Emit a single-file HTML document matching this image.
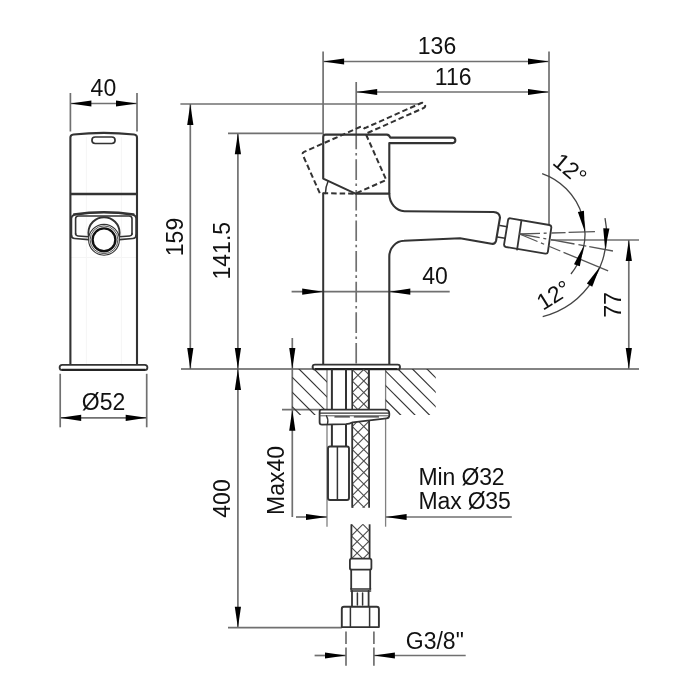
<!DOCTYPE html>
<html><head><meta charset="utf-8"><style>
html,body{margin:0;padding:0;background:#fff;}
svg{display:block;filter:blur(0.3px);}
text{font-family:"Liberation Sans", sans-serif;}
</style></head><body>
<svg width="700" height="700" viewBox="0 0 700 700">
<rect width="700" height="700" fill="#fff"/>
<line x1="86.40" y1="137.00" x2="86.40" y2="364.50" stroke="#f5f5f5" stroke-width="1" />
<line x1="121.40" y1="137.00" x2="121.40" y2="364.50" stroke="#f5f5f5" stroke-width="1" />
<line x1="71.00" y1="257.50" x2="136.00" y2="257.50" stroke="#f5f5f5" stroke-width="1" />
<line x1="70.40" y1="93.00" x2="70.40" y2="131.50" stroke="#707070" stroke-width="1.7" />
<line x1="137.00" y1="93.00" x2="137.00" y2="131.50" stroke="#707070" stroke-width="1.7" />
<line x1="70.40" y1="103.50" x2="137.00" y2="103.50" stroke="#707070" stroke-width="1.7" />
<path d="M70.40,103.50 L91.40,100.40 L91.40,106.60 Z" fill="#000"/>
<path d="M137.00,103.50 L116.00,106.60 L116.00,100.40 Z" fill="#000"/>
<text x="103.40" y="87.80" font-size="23" text-anchor="middle" dominant-baseline="central" fill="#111">40</text>
<path d="M70.4,364.8 V137.6 Q70.4,134.8 73.5,134.5 Q103.7,131.2 134,134.5 Q137,134.8 137,137.6 V364.8" stroke="#333333" stroke-width="2.1" fill="none" stroke-linejoin="round" stroke-linecap="round" />
<path d="M95.2,137 H111.8 A3.25,3.25 0 0 1 111.8,143.5 H95.2 A3.25,3.25 0 0 1 95.2,137 Z" stroke="#333333" stroke-width="1.7" fill="none" stroke-linejoin="round" stroke-linecap="round" />
<line x1="70.40" y1="194.00" x2="137.00" y2="194.00" stroke="#333333" stroke-width="2.6" />
<path d="M71.4,237 V218.6 Q71.4,215.4 74.6,214.8 Q103.8,210.4 133,214.8 Q136.1,215.4 136.1,218.6 V237" stroke="#333333" stroke-width="1.7" fill="none" stroke-linejoin="round" stroke-linecap="round" />
<path d="M74,214.2 Q103.8,209.8 133.6,214.2" stroke="#333333" stroke-width="2.0" fill="none" stroke-linejoin="round" stroke-linecap="round" />
<path d="M71.4,235 Q71.4,238.2 74.6,238.5 L88.6,239.6" stroke="#333333" stroke-width="1.6" fill="none" stroke-linejoin="round" stroke-linecap="round" />
<path d="M136.1,235 Q136.1,238.2 132.9,238.5 L119.4,239.6" stroke="#333333" stroke-width="1.6" fill="none" stroke-linejoin="round" stroke-linecap="round" />
<path d="M75.6,234.2 V218.8 Q75.6,216 78.5,216 L129.1,216 Q132,216 132,218.8 V234.2" stroke="#333333" stroke-width="1.6" fill="none" stroke-linejoin="round" stroke-linecap="round" />
<path d="M75.6,233.6 Q75.6,235.8 78,236 L88.6,236.8" stroke="#333333" stroke-width="1.5" fill="none" stroke-linejoin="round" stroke-linecap="round" />
<path d="M132,233.6 Q132,235.8 129.6,236 L119.4,236.8" stroke="#333333" stroke-width="1.5" fill="none" stroke-linejoin="round" stroke-linecap="round" />
<circle cx="104" cy="232.8" r="15.6" fill="#fff" stroke="#333333" stroke-width="1.9"/>
<circle cx="104" cy="239.8" r="15.4" fill="#fff" stroke="#333" stroke-width="1.1"/>
<circle cx="104" cy="239.8" r="13.9" fill="none" stroke="#555" stroke-width="1.0"/>
<circle cx="104" cy="239.8" r="11.4" fill="#fff" stroke="#111" stroke-width="2.4"/>
<rect x="59.6" y="364.8" width="87.8" height="5.2" rx="2.6" fill="#fff" stroke="#333333" stroke-width="1.8"/>
<line x1="62.00" y1="369.80" x2="145.00" y2="369.80" stroke="#222" stroke-width="1.9" />
<line x1="60.20" y1="373.80" x2="60.20" y2="427.30" stroke="#707070" stroke-width="1.7" />
<line x1="146.70" y1="373.80" x2="146.70" y2="427.30" stroke="#707070" stroke-width="1.7" />
<line x1="60.20" y1="417.80" x2="146.70" y2="417.80" stroke="#707070" stroke-width="1.7" />
<path d="M60.20,417.80 L81.20,414.70 L81.20,420.90 Z" fill="#000"/>
<path d="M146.70,417.80 L125.70,420.90 L125.70,414.70 Z" fill="#000"/>
<text x="103.60" y="401.60" font-size="23" text-anchor="middle" dominant-baseline="central" fill="#111">Ø52</text>
<line x1="323.10" y1="51.60" x2="323.10" y2="134.50" stroke="#707070" stroke-width="1.7" />
<line x1="323.10" y1="61.50" x2="549.00" y2="61.50" stroke="#707070" stroke-width="1.7" />
<path d="M323.10,61.50 L344.10,58.40 L344.10,64.60 Z" fill="#000"/>
<path d="M549.00,61.50 L528.00,64.60 L528.00,58.40 Z" fill="#000"/>
<text x="437.00" y="45.80" font-size="23" text-anchor="middle" dominant-baseline="central" fill="#111">136</text>
<line x1="356.20" y1="82.00" x2="356.20" y2="142.00" stroke="#707070" stroke-width="1.7" />
<line x1="356.20" y1="92.00" x2="549.00" y2="92.00" stroke="#707070" stroke-width="1.7" />
<path d="M356.20,92.00 L377.20,88.90 L377.20,95.10 Z" fill="#000"/>
<path d="M549.00,92.00 L528.00,95.10 L528.00,88.90 Z" fill="#000"/>
<text x="453.20" y="76.60" font-size="23" text-anchor="middle" dominant-baseline="central" fill="#111">116</text>
<line x1="549.00" y1="51.40" x2="549.00" y2="225.00" stroke="#707070" stroke-width="1.7" />
<line x1="180.40" y1="104.00" x2="418.60" y2="104.00" stroke="#707070" stroke-width="1.7" />
<line x1="228.00" y1="133.30" x2="323.00" y2="133.30" stroke="#707070" stroke-width="1.7" />
<line x1="190.30" y1="104.00" x2="190.30" y2="369.00" stroke="#707070" stroke-width="1.7" />
<path d="M190.30,104.00 L193.40,125.00 L187.20,125.00 Z" fill="#000"/>
<path d="M190.30,369.00 L187.20,348.00 L193.40,348.00 Z" fill="#000"/>
<text x="175.00" y="237.00" font-size="23" text-anchor="middle" dominant-baseline="central" fill="#111" transform="rotate(-90 175.00 237.00)">159</text>
<line x1="237.90" y1="133.30" x2="237.90" y2="627.70" stroke="#707070" stroke-width="1.7" />
<path d="M237.90,133.30 L241.00,154.30 L234.80,154.30 Z" fill="#000"/>
<path d="M237.90,369.00 L234.80,348.00 L241.00,348.00 Z" fill="#000"/>
<text x="221.80" y="250.70" font-size="23" text-anchor="middle" dominant-baseline="central" fill="#111" transform="rotate(-90 221.80 250.70)">141.5</text>
<line x1="181.00" y1="369.00" x2="639.00" y2="369.00" stroke="#5a5a5a" stroke-width="1.7" />
<line x1="551.00" y1="240.00" x2="639.00" y2="240.00" stroke="#707070" stroke-width="1.7" />
<line x1="628.80" y1="240.00" x2="628.80" y2="369.00" stroke="#707070" stroke-width="1.7" />
<path d="M628.80,240.00 L631.90,261.00 L625.70,261.00 Z" fill="#000"/>
<path d="M628.80,369.00 L625.70,348.00 L631.90,348.00 Z" fill="#000"/>
<text x="612.50" y="305.00" font-size="23" text-anchor="middle" dominant-baseline="central" fill="#111" transform="rotate(-90 612.50 305.00)">77</text>
<line x1="291.60" y1="291.70" x2="449.70" y2="291.70" stroke="#707070" stroke-width="1.7" />
<path d="M323.20,291.70 L302.20,294.80 L302.20,288.60 Z" fill="#000"/>
<path d="M389.30,291.70 L410.30,288.60 L410.30,294.80 Z" fill="#000"/>
<text x="435.00" y="275.80" font-size="23" text-anchor="middle" dominant-baseline="central" fill="#111">40</text>
<path d="M237.90,369.00 L241.00,390.00 L234.80,390.00 Z" fill="#000"/>
<path d="M237.90,627.70 L234.80,606.70 L241.00,606.70 Z" fill="#000"/>
<line x1="228.00" y1="627.70" x2="341.80" y2="627.70" stroke="#707070" stroke-width="1.7" />
<text x="222.30" y="498.50" font-size="23" text-anchor="middle" dominant-baseline="central" fill="#111" transform="rotate(-90 222.30 498.50)">400</text>
<line x1="292.30" y1="338.00" x2="292.30" y2="517.00" stroke="#707070" stroke-width="1.7" />
<path d="M292.30,369.00 L289.20,348.00 L295.40,348.00 Z" fill="#000"/>
<path d="M292.30,409.70 L295.40,430.70 L289.20,430.70 Z" fill="#000"/>
<line x1="282.00" y1="409.70" x2="320.00" y2="409.70" stroke="#707070" stroke-width="1.7" />
<text x="276.30" y="480.40" font-size="23" text-anchor="middle" dominant-baseline="central" fill="#111" transform="rotate(-90 276.30 480.40)">Max40</text>
<line x1="327.00" y1="369.00" x2="327.00" y2="526.70" stroke="#808080" stroke-width="1.3" />
<line x1="385.60" y1="369.00" x2="385.60" y2="526.70" stroke="#808080" stroke-width="1.3" />
<line x1="296.00" y1="517.00" x2="327.00" y2="517.00" stroke="#707070" stroke-width="1.7" />
<path d="M327.00,517.00 L306.00,520.10 L306.00,513.90 Z" fill="#000"/>
<line x1="385.60" y1="517.00" x2="511.80" y2="517.00" stroke="#707070" stroke-width="1.7" />
<path d="M385.60,517.00 L406.60,513.90 L406.60,520.10 Z" fill="#000"/>
<text x="418.60" y="476.70" font-size="23" text-anchor="start" dominant-baseline="central" fill="#111" letter-spacing="-0.15">Min Ø32</text>
<text x="418.60" y="501.30" font-size="23" text-anchor="start" dominant-baseline="central" fill="#111" letter-spacing="-0.2">Max Ø35</text>
<line x1="346.00" y1="631.40" x2="346.00" y2="665.70" stroke="#707070" stroke-width="1.7" stroke-dasharray="12.5 3.5 30"/>
<line x1="373.90" y1="631.40" x2="373.90" y2="665.70" stroke="#707070" stroke-width="1.7" stroke-dasharray="12.5 3.5 30"/>
<line x1="314.60" y1="655.50" x2="346.00" y2="655.50" stroke="#707070" stroke-width="1.7" />
<path d="M346.00,655.50 L325.00,658.60 L325.00,652.40 Z" fill="#000"/>
<line x1="373.90" y1="655.50" x2="465.70" y2="655.50" stroke="#707070" stroke-width="1.7" />
<path d="M373.90,655.50 L394.90,652.40 L394.90,658.60 Z" fill="#000"/>
<text x="405.80" y="640.60" font-size="23" text-anchor="start" dominant-baseline="central" fill="#111">G3/8"</text>
<line x1="356.20" y1="142.00" x2="356.20" y2="364.60" stroke="#707070" stroke-width="1.7" stroke-dasharray="20.6 3.6 2.6 3.8" stroke-dashoffset="-17.30"/>
<path d="M323.2,178.6 V137 Q323.2,134.6 325.6,134.6 L386.8,134.6 Q389.3,134.8 390.3,137.6 L452.6,137.6 A2.75,2.75 0 0 1 452.6,143.1 L389.3,143.1 V193.6 L355.4,193.6 Z" stroke="#333333" stroke-width="2.1" fill="none" stroke-linejoin="round" stroke-linecap="round" />
<path d="M325.4,193.6 A30,30 0 0 1 328.2,181" stroke="#333333" stroke-width="1.5" fill="none" stroke-linejoin="round" stroke-linecap="round" />
<path d="M323.2,178.6 V137 Q323.2,134.6 325.6,134.6 L386.8,134.6 Q389.3,134.8 390.3,137.6 L452.6,137.6 A2.75,2.75 0 0 1 452.6,143.1 L389.3,143.1 V193.6 L355.4,193.6 Z" transform="rotate(-24 355.6 193.9)" stroke="#333333" stroke-width="2" fill="none" stroke-dasharray="5.5 3"/>
<path d="M323.2,193.6 V364.6" stroke="#333333" stroke-width="2" fill="none" stroke-linejoin="round" stroke-linecap="round" />
<path d="M389.3,193.6 A15.5,17.6 0 0 0 404.4,211.2 L493.5,212 Q499.5,212.4 500,217.5 L496,241 Q495,244.5 491.5,243.8 L460,238.2 L404,240.8 A15,16 0 0 0 389.3,256.9 V364.6" stroke="#333333" stroke-width="2.1" fill="none" stroke-linejoin="round" stroke-linecap="round" />
<path d="M500,225.5 L507.2,226.8 M497.4,237 L505,238.3" stroke="#333333" stroke-width="1.6" fill="none" stroke-linejoin="round" stroke-linecap="round" />
<path d="M510.5,218.3 L549.4,225 Q551.6,225.6 551.3,227.6 L547.9,251.8 Q547.5,254 545.3,253.6 L506,247 Q503.8,246.5 504.1,244.4 L508,220.3 Q508.4,218 510.5,218.3 Z" stroke="#333333" stroke-width="1.85" fill="none" stroke-linejoin="round" stroke-linecap="round" />
<path d="M521.4,220.7 L517.1,249.6" stroke="#333333" stroke-width="1.8" fill="none" stroke-linejoin="round" stroke-linecap="round" />
<rect x="312.6" y="364.6" width="87.4" height="4.8" rx="2.4" fill="#fff" stroke="#333333" stroke-width="1.9"/>
<line x1="315.00" y1="369.10" x2="397.50" y2="369.10" stroke="#222" stroke-width="2.0" />
<line x1="519.5" y1="234" x2="594.96" y2="231.63" stroke="#555" stroke-width="1.3" stroke-dasharray="20.5 3.7 3 4.7 14.2 3 40"/>
<line x1="519.5" y1="234" x2="612.97" y2="250.99" stroke="#555" stroke-width="1.3" stroke-dasharray="20.5 3.7 3 4.7 24 4 8 3 40"/>
<line x1="519.5" y1="234" x2="608.13" y2="270.89" stroke="#555" stroke-width="1.3" stroke-dasharray="19.5 3.7 3.5 4.5 13 3.5 50"/>
<path d="M542.15,173.60 A64,64 0 0 1 570.95,274.02" stroke="#444" stroke-width="1.3" fill="none"/>
<path d="M584.97,231.99 L577.85,211.99 L583.93,210.79 Z" fill="#000"/>
<path d="M583.97,245.44 L579.81,266.26 L573.97,264.17 Z" fill="#000"/>
<path d="M605.01,218.13 A85.5,85.5 0 0 1 542.70,316.70" stroke="#444" stroke-width="1.3" fill="none"/>
<path d="M605.12,249.29 L603.22,228.15 L609.41,228.50 Z" fill="#000"/>
<path d="M599.93,266.86 L592.24,286.64 L586.86,283.58 Z" fill="#000"/>
<text x="570.00" y="168.80" font-size="23" text-anchor="middle" dominant-baseline="central" fill="#111" transform="rotate(40 570.00 168.80)">12°</text>
<text x="553.50" y="295.00" font-size="23" text-anchor="middle" dominant-baseline="central" fill="#111" transform="rotate(-32 553.50 295.00)">12°</text>
<clipPath id="hl"><rect x="292.3" y="369" width="34.7" height="46"/></clipPath>
<clipPath id="hr"><rect x="385.6" y="369" width="50.2" height="46"/></clipPath>
<g clip-path="url(#hl)"><line x1="305.0" y1="360" x2="375.0" y2="430" stroke="#333" stroke-width="1.2"/><line x1="290.0" y1="360" x2="360.0" y2="430" stroke="#333" stroke-width="1.2"/><line x1="275.0" y1="360" x2="345.0" y2="430" stroke="#333" stroke-width="1.2"/><line x1="260.0" y1="360" x2="330.0" y2="430" stroke="#333" stroke-width="1.2"/><line x1="245.5" y1="360" x2="315.5" y2="430" stroke="#333" stroke-width="1.2"/><line x1="231.0" y1="360" x2="301.0" y2="430" stroke="#333" stroke-width="1.2"/></g>
<g clip-path="url(#hr)"><line x1="331.4" y1="360" x2="401.4" y2="430" stroke="#333" stroke-width="1.2"/><line x1="345.7" y1="360" x2="415.7" y2="430" stroke="#333" stroke-width="1.2"/><line x1="360.0" y1="360" x2="430.0" y2="430" stroke="#333" stroke-width="1.2"/><line x1="374.5" y1="360" x2="444.5" y2="430" stroke="#333" stroke-width="1.2"/><line x1="389.0" y1="360" x2="459.0" y2="430" stroke="#333" stroke-width="1.2"/><line x1="403.5" y1="360" x2="473.5" y2="430" stroke="#333" stroke-width="1.2"/><line x1="418.0" y1="360" x2="488.0" y2="430" stroke="#333" stroke-width="1.2"/></g>
<clipPath id="c1"><rect x="352.2" y="369.5" width="16.80000000000001" height="40.10000000000002"/></clipPath>
<g clip-path="url(#c1)"><line x1="292.2" y1="79.5" x2="412.2" y2="199.5" stroke="#4a4a4a" stroke-width="1.05"/><line x1="292.2" y1="199.5" x2="412.2" y2="79.5" stroke="#4a4a4a" stroke-width="1.05"/><line x1="292.2" y1="91.0" x2="412.2" y2="211.0" stroke="#4a4a4a" stroke-width="1.05"/><line x1="292.2" y1="211.0" x2="412.2" y2="91.0" stroke="#4a4a4a" stroke-width="1.05"/><line x1="292.2" y1="102.5" x2="412.2" y2="222.5" stroke="#4a4a4a" stroke-width="1.05"/><line x1="292.2" y1="222.5" x2="412.2" y2="102.5" stroke="#4a4a4a" stroke-width="1.05"/><line x1="292.2" y1="114.0" x2="412.2" y2="234.0" stroke="#4a4a4a" stroke-width="1.05"/><line x1="292.2" y1="234.0" x2="412.2" y2="114.0" stroke="#4a4a4a" stroke-width="1.05"/><line x1="292.2" y1="125.5" x2="412.2" y2="245.5" stroke="#4a4a4a" stroke-width="1.05"/><line x1="292.2" y1="245.5" x2="412.2" y2="125.5" stroke="#4a4a4a" stroke-width="1.05"/><line x1="292.2" y1="137.0" x2="412.2" y2="257.0" stroke="#4a4a4a" stroke-width="1.05"/><line x1="292.2" y1="257.0" x2="412.2" y2="137.0" stroke="#4a4a4a" stroke-width="1.05"/><line x1="292.2" y1="148.5" x2="412.2" y2="268.5" stroke="#4a4a4a" stroke-width="1.05"/><line x1="292.2" y1="268.5" x2="412.2" y2="148.5" stroke="#4a4a4a" stroke-width="1.05"/><line x1="292.2" y1="160.0" x2="412.2" y2="280.0" stroke="#4a4a4a" stroke-width="1.05"/><line x1="292.2" y1="280.0" x2="412.2" y2="160.0" stroke="#4a4a4a" stroke-width="1.05"/><line x1="292.2" y1="171.5" x2="412.2" y2="291.5" stroke="#4a4a4a" stroke-width="1.05"/><line x1="292.2" y1="291.5" x2="412.2" y2="171.5" stroke="#4a4a4a" stroke-width="1.05"/><line x1="292.2" y1="183.0" x2="412.2" y2="303.0" stroke="#4a4a4a" stroke-width="1.05"/><line x1="292.2" y1="303.0" x2="412.2" y2="183.0" stroke="#4a4a4a" stroke-width="1.05"/><line x1="292.2" y1="194.5" x2="412.2" y2="314.5" stroke="#4a4a4a" stroke-width="1.05"/><line x1="292.2" y1="314.5" x2="412.2" y2="194.5" stroke="#4a4a4a" stroke-width="1.05"/><line x1="292.2" y1="206.0" x2="412.2" y2="326.0" stroke="#4a4a4a" stroke-width="1.05"/><line x1="292.2" y1="326.0" x2="412.2" y2="206.0" stroke="#4a4a4a" stroke-width="1.05"/><line x1="292.2" y1="217.5" x2="412.2" y2="337.5" stroke="#4a4a4a" stroke-width="1.05"/><line x1="292.2" y1="337.5" x2="412.2" y2="217.5" stroke="#4a4a4a" stroke-width="1.05"/><line x1="292.2" y1="229.0" x2="412.2" y2="349.0" stroke="#4a4a4a" stroke-width="1.05"/><line x1="292.2" y1="349.0" x2="412.2" y2="229.0" stroke="#4a4a4a" stroke-width="1.05"/><line x1="292.2" y1="240.5" x2="412.2" y2="360.5" stroke="#4a4a4a" stroke-width="1.05"/><line x1="292.2" y1="360.5" x2="412.2" y2="240.5" stroke="#4a4a4a" stroke-width="1.05"/><line x1="292.2" y1="252.0" x2="412.2" y2="372.0" stroke="#4a4a4a" stroke-width="1.05"/><line x1="292.2" y1="372.0" x2="412.2" y2="252.0" stroke="#4a4a4a" stroke-width="1.05"/><line x1="292.2" y1="263.5" x2="412.2" y2="383.5" stroke="#4a4a4a" stroke-width="1.05"/><line x1="292.2" y1="383.5" x2="412.2" y2="263.5" stroke="#4a4a4a" stroke-width="1.05"/><line x1="292.2" y1="275.0" x2="412.2" y2="395.0" stroke="#4a4a4a" stroke-width="1.05"/><line x1="292.2" y1="395.0" x2="412.2" y2="275.0" stroke="#4a4a4a" stroke-width="1.05"/><line x1="292.2" y1="286.5" x2="412.2" y2="406.5" stroke="#4a4a4a" stroke-width="1.05"/><line x1="292.2" y1="406.5" x2="412.2" y2="286.5" stroke="#4a4a4a" stroke-width="1.05"/><line x1="292.2" y1="298.0" x2="412.2" y2="418.0" stroke="#4a4a4a" stroke-width="1.05"/><line x1="292.2" y1="418.0" x2="412.2" y2="298.0" stroke="#4a4a4a" stroke-width="1.05"/><line x1="292.2" y1="309.5" x2="412.2" y2="429.5" stroke="#4a4a4a" stroke-width="1.05"/><line x1="292.2" y1="429.5" x2="412.2" y2="309.5" stroke="#4a4a4a" stroke-width="1.05"/><line x1="292.2" y1="321.0" x2="412.2" y2="441.0" stroke="#4a4a4a" stroke-width="1.05"/><line x1="292.2" y1="441.0" x2="412.2" y2="321.0" stroke="#4a4a4a" stroke-width="1.05"/><line x1="292.2" y1="332.5" x2="412.2" y2="452.5" stroke="#4a4a4a" stroke-width="1.05"/><line x1="292.2" y1="452.5" x2="412.2" y2="332.5" stroke="#4a4a4a" stroke-width="1.05"/><line x1="292.2" y1="344.0" x2="412.2" y2="464.0" stroke="#4a4a4a" stroke-width="1.05"/><line x1="292.2" y1="464.0" x2="412.2" y2="344.0" stroke="#4a4a4a" stroke-width="1.05"/><line x1="292.2" y1="355.5" x2="412.2" y2="475.5" stroke="#4a4a4a" stroke-width="1.05"/><line x1="292.2" y1="475.5" x2="412.2" y2="355.5" stroke="#4a4a4a" stroke-width="1.05"/><line x1="292.2" y1="367.0" x2="412.2" y2="487.0" stroke="#4a4a4a" stroke-width="1.05"/><line x1="292.2" y1="487.0" x2="412.2" y2="367.0" stroke="#4a4a4a" stroke-width="1.05"/><line x1="292.2" y1="378.5" x2="412.2" y2="498.5" stroke="#4a4a4a" stroke-width="1.05"/><line x1="292.2" y1="498.5" x2="412.2" y2="378.5" stroke="#4a4a4a" stroke-width="1.05"/><line x1="292.2" y1="390.0" x2="412.2" y2="510.0" stroke="#4a4a4a" stroke-width="1.05"/><line x1="292.2" y1="510.0" x2="412.2" y2="390.0" stroke="#4a4a4a" stroke-width="1.05"/><line x1="292.2" y1="401.5" x2="412.2" y2="521.5" stroke="#4a4a4a" stroke-width="1.05"/><line x1="292.2" y1="521.5" x2="412.2" y2="401.5" stroke="#4a4a4a" stroke-width="1.05"/><line x1="292.2" y1="413.0" x2="412.2" y2="533.0" stroke="#4a4a4a" stroke-width="1.05"/><line x1="292.2" y1="533.0" x2="412.2" y2="413.0" stroke="#4a4a4a" stroke-width="1.05"/><line x1="292.2" y1="424.5" x2="412.2" y2="544.5" stroke="#4a4a4a" stroke-width="1.05"/><line x1="292.2" y1="544.5" x2="412.2" y2="424.5" stroke="#4a4a4a" stroke-width="1.05"/><line x1="292.2" y1="436.0" x2="412.2" y2="556.0" stroke="#4a4a4a" stroke-width="1.05"/><line x1="292.2" y1="556.0" x2="412.2" y2="436.0" stroke="#4a4a4a" stroke-width="1.05"/><line x1="292.2" y1="447.5" x2="412.2" y2="567.5" stroke="#4a4a4a" stroke-width="1.05"/><line x1="292.2" y1="567.5" x2="412.2" y2="447.5" stroke="#4a4a4a" stroke-width="1.05"/><line x1="292.2" y1="459.0" x2="412.2" y2="579.0" stroke="#4a4a4a" stroke-width="1.05"/><line x1="292.2" y1="579.0" x2="412.2" y2="459.0" stroke="#4a4a4a" stroke-width="1.05"/><line x1="292.2" y1="470.5" x2="412.2" y2="590.5" stroke="#4a4a4a" stroke-width="1.05"/><line x1="292.2" y1="590.5" x2="412.2" y2="470.5" stroke="#4a4a4a" stroke-width="1.05"/><line x1="292.2" y1="482.0" x2="412.2" y2="602.0" stroke="#4a4a4a" stroke-width="1.05"/><line x1="292.2" y1="602.0" x2="412.2" y2="482.0" stroke="#4a4a4a" stroke-width="1.05"/><line x1="292.2" y1="493.5" x2="412.2" y2="613.5" stroke="#4a4a4a" stroke-width="1.05"/><line x1="292.2" y1="613.5" x2="412.2" y2="493.5" stroke="#4a4a4a" stroke-width="1.05"/><line x1="292.2" y1="505.0" x2="412.2" y2="625.0" stroke="#4a4a4a" stroke-width="1.05"/><line x1="292.2" y1="625.0" x2="412.2" y2="505.0" stroke="#4a4a4a" stroke-width="1.05"/><line x1="292.2" y1="516.5" x2="412.2" y2="636.5" stroke="#4a4a4a" stroke-width="1.05"/><line x1="292.2" y1="636.5" x2="412.2" y2="516.5" stroke="#4a4a4a" stroke-width="1.05"/><line x1="292.2" y1="528.0" x2="412.2" y2="648.0" stroke="#4a4a4a" stroke-width="1.05"/><line x1="292.2" y1="648.0" x2="412.2" y2="528.0" stroke="#4a4a4a" stroke-width="1.05"/><line x1="292.2" y1="539.5" x2="412.2" y2="659.5" stroke="#4a4a4a" stroke-width="1.05"/><line x1="292.2" y1="659.5" x2="412.2" y2="539.5" stroke="#4a4a4a" stroke-width="1.05"/><line x1="292.2" y1="551.0" x2="412.2" y2="671.0" stroke="#4a4a4a" stroke-width="1.05"/><line x1="292.2" y1="671.0" x2="412.2" y2="551.0" stroke="#4a4a4a" stroke-width="1.05"/><line x1="292.2" y1="562.5" x2="412.2" y2="682.5" stroke="#4a4a4a" stroke-width="1.05"/><line x1="292.2" y1="682.5" x2="412.2" y2="562.5" stroke="#4a4a4a" stroke-width="1.05"/><line x1="292.2" y1="574.0" x2="412.2" y2="694.0" stroke="#4a4a4a" stroke-width="1.05"/><line x1="292.2" y1="694.0" x2="412.2" y2="574.0" stroke="#4a4a4a" stroke-width="1.05"/><line x1="292.2" y1="585.5" x2="412.2" y2="705.5" stroke="#4a4a4a" stroke-width="1.05"/><line x1="292.2" y1="705.5" x2="412.2" y2="585.5" stroke="#4a4a4a" stroke-width="1.05"/><line x1="292.2" y1="597.0" x2="412.2" y2="717.0" stroke="#4a4a4a" stroke-width="1.05"/><line x1="292.2" y1="717.0" x2="412.2" y2="597.0" stroke="#4a4a4a" stroke-width="1.05"/><line x1="292.2" y1="608.5" x2="412.2" y2="728.5" stroke="#4a4a4a" stroke-width="1.05"/><line x1="292.2" y1="728.5" x2="412.2" y2="608.5" stroke="#4a4a4a" stroke-width="1.05"/><line x1="292.2" y1="620.0" x2="412.2" y2="740.0" stroke="#4a4a4a" stroke-width="1.05"/><line x1="292.2" y1="740.0" x2="412.2" y2="620.0" stroke="#4a4a4a" stroke-width="1.05"/><line x1="292.2" y1="631.5" x2="412.2" y2="751.5" stroke="#4a4a4a" stroke-width="1.05"/><line x1="292.2" y1="751.5" x2="412.2" y2="631.5" stroke="#4a4a4a" stroke-width="1.05"/><line x1="292.2" y1="643.0" x2="412.2" y2="763.0" stroke="#4a4a4a" stroke-width="1.05"/><line x1="292.2" y1="763.0" x2="412.2" y2="643.0" stroke="#4a4a4a" stroke-width="1.05"/><line x1="292.2" y1="654.5" x2="412.2" y2="774.5" stroke="#4a4a4a" stroke-width="1.05"/><line x1="292.2" y1="774.5" x2="412.2" y2="654.5" stroke="#4a4a4a" stroke-width="1.05"/><line x1="292.2" y1="666.0" x2="412.2" y2="786.0" stroke="#4a4a4a" stroke-width="1.05"/><line x1="292.2" y1="786.0" x2="412.2" y2="666.0" stroke="#4a4a4a" stroke-width="1.05"/><line x1="292.2" y1="677.5" x2="412.2" y2="797.5" stroke="#4a4a4a" stroke-width="1.05"/><line x1="292.2" y1="797.5" x2="412.2" y2="677.5" stroke="#4a4a4a" stroke-width="1.05"/><line x1="292.2" y1="689.0" x2="412.2" y2="809.0" stroke="#4a4a4a" stroke-width="1.05"/><line x1="292.2" y1="809.0" x2="412.2" y2="689.0" stroke="#4a4a4a" stroke-width="1.05"/><line x1="292.2" y1="700.5" x2="412.2" y2="820.5" stroke="#4a4a4a" stroke-width="1.05"/><line x1="292.2" y1="820.5" x2="412.2" y2="700.5" stroke="#4a4a4a" stroke-width="1.05"/><line x1="292.2" y1="712.0" x2="412.2" y2="832.0" stroke="#4a4a4a" stroke-width="1.05"/><line x1="292.2" y1="832.0" x2="412.2" y2="712.0" stroke="#4a4a4a" stroke-width="1.05"/><line x1="292.2" y1="723.5" x2="412.2" y2="843.5" stroke="#4a4a4a" stroke-width="1.05"/><line x1="292.2" y1="843.5" x2="412.2" y2="723.5" stroke="#4a4a4a" stroke-width="1.05"/><line x1="292.2" y1="735.0" x2="412.2" y2="855.0" stroke="#4a4a4a" stroke-width="1.05"/><line x1="292.2" y1="855.0" x2="412.2" y2="735.0" stroke="#4a4a4a" stroke-width="1.05"/><line x1="292.2" y1="746.5" x2="412.2" y2="866.5" stroke="#4a4a4a" stroke-width="1.05"/><line x1="292.2" y1="866.5" x2="412.2" y2="746.5" stroke="#4a4a4a" stroke-width="1.05"/><line x1="292.2" y1="758.0" x2="412.2" y2="878.0" stroke="#4a4a4a" stroke-width="1.05"/><line x1="292.2" y1="878.0" x2="412.2" y2="758.0" stroke="#4a4a4a" stroke-width="1.05"/></g>
<clipPath id="c2"><rect x="352.2" y="415" width="16.80000000000001" height="92.80000000000001"/></clipPath>
<g clip-path="url(#c2)"><line x1="292.2" y1="125.0" x2="412.2" y2="245.0" stroke="#4a4a4a" stroke-width="1.05"/><line x1="292.2" y1="245.0" x2="412.2" y2="125.0" stroke="#4a4a4a" stroke-width="1.05"/><line x1="292.2" y1="136.5" x2="412.2" y2="256.5" stroke="#4a4a4a" stroke-width="1.05"/><line x1="292.2" y1="256.5" x2="412.2" y2="136.5" stroke="#4a4a4a" stroke-width="1.05"/><line x1="292.2" y1="148.0" x2="412.2" y2="268.0" stroke="#4a4a4a" stroke-width="1.05"/><line x1="292.2" y1="268.0" x2="412.2" y2="148.0" stroke="#4a4a4a" stroke-width="1.05"/><line x1="292.2" y1="159.5" x2="412.2" y2="279.5" stroke="#4a4a4a" stroke-width="1.05"/><line x1="292.2" y1="279.5" x2="412.2" y2="159.5" stroke="#4a4a4a" stroke-width="1.05"/><line x1="292.2" y1="171.0" x2="412.2" y2="291.0" stroke="#4a4a4a" stroke-width="1.05"/><line x1="292.2" y1="291.0" x2="412.2" y2="171.0" stroke="#4a4a4a" stroke-width="1.05"/><line x1="292.2" y1="182.5" x2="412.2" y2="302.5" stroke="#4a4a4a" stroke-width="1.05"/><line x1="292.2" y1="302.5" x2="412.2" y2="182.5" stroke="#4a4a4a" stroke-width="1.05"/><line x1="292.2" y1="194.0" x2="412.2" y2="314.0" stroke="#4a4a4a" stroke-width="1.05"/><line x1="292.2" y1="314.0" x2="412.2" y2="194.0" stroke="#4a4a4a" stroke-width="1.05"/><line x1="292.2" y1="205.5" x2="412.2" y2="325.5" stroke="#4a4a4a" stroke-width="1.05"/><line x1="292.2" y1="325.5" x2="412.2" y2="205.5" stroke="#4a4a4a" stroke-width="1.05"/><line x1="292.2" y1="217.0" x2="412.2" y2="337.0" stroke="#4a4a4a" stroke-width="1.05"/><line x1="292.2" y1="337.0" x2="412.2" y2="217.0" stroke="#4a4a4a" stroke-width="1.05"/><line x1="292.2" y1="228.5" x2="412.2" y2="348.5" stroke="#4a4a4a" stroke-width="1.05"/><line x1="292.2" y1="348.5" x2="412.2" y2="228.5" stroke="#4a4a4a" stroke-width="1.05"/><line x1="292.2" y1="240.0" x2="412.2" y2="360.0" stroke="#4a4a4a" stroke-width="1.05"/><line x1="292.2" y1="360.0" x2="412.2" y2="240.0" stroke="#4a4a4a" stroke-width="1.05"/><line x1="292.2" y1="251.5" x2="412.2" y2="371.5" stroke="#4a4a4a" stroke-width="1.05"/><line x1="292.2" y1="371.5" x2="412.2" y2="251.5" stroke="#4a4a4a" stroke-width="1.05"/><line x1="292.2" y1="263.0" x2="412.2" y2="383.0" stroke="#4a4a4a" stroke-width="1.05"/><line x1="292.2" y1="383.0" x2="412.2" y2="263.0" stroke="#4a4a4a" stroke-width="1.05"/><line x1="292.2" y1="274.5" x2="412.2" y2="394.5" stroke="#4a4a4a" stroke-width="1.05"/><line x1="292.2" y1="394.5" x2="412.2" y2="274.5" stroke="#4a4a4a" stroke-width="1.05"/><line x1="292.2" y1="286.0" x2="412.2" y2="406.0" stroke="#4a4a4a" stroke-width="1.05"/><line x1="292.2" y1="406.0" x2="412.2" y2="286.0" stroke="#4a4a4a" stroke-width="1.05"/><line x1="292.2" y1="297.5" x2="412.2" y2="417.5" stroke="#4a4a4a" stroke-width="1.05"/><line x1="292.2" y1="417.5" x2="412.2" y2="297.5" stroke="#4a4a4a" stroke-width="1.05"/><line x1="292.2" y1="309.0" x2="412.2" y2="429.0" stroke="#4a4a4a" stroke-width="1.05"/><line x1="292.2" y1="429.0" x2="412.2" y2="309.0" stroke="#4a4a4a" stroke-width="1.05"/><line x1="292.2" y1="320.5" x2="412.2" y2="440.5" stroke="#4a4a4a" stroke-width="1.05"/><line x1="292.2" y1="440.5" x2="412.2" y2="320.5" stroke="#4a4a4a" stroke-width="1.05"/><line x1="292.2" y1="332.0" x2="412.2" y2="452.0" stroke="#4a4a4a" stroke-width="1.05"/><line x1="292.2" y1="452.0" x2="412.2" y2="332.0" stroke="#4a4a4a" stroke-width="1.05"/><line x1="292.2" y1="343.5" x2="412.2" y2="463.5" stroke="#4a4a4a" stroke-width="1.05"/><line x1="292.2" y1="463.5" x2="412.2" y2="343.5" stroke="#4a4a4a" stroke-width="1.05"/><line x1="292.2" y1="355.0" x2="412.2" y2="475.0" stroke="#4a4a4a" stroke-width="1.05"/><line x1="292.2" y1="475.0" x2="412.2" y2="355.0" stroke="#4a4a4a" stroke-width="1.05"/><line x1="292.2" y1="366.5" x2="412.2" y2="486.5" stroke="#4a4a4a" stroke-width="1.05"/><line x1="292.2" y1="486.5" x2="412.2" y2="366.5" stroke="#4a4a4a" stroke-width="1.05"/><line x1="292.2" y1="378.0" x2="412.2" y2="498.0" stroke="#4a4a4a" stroke-width="1.05"/><line x1="292.2" y1="498.0" x2="412.2" y2="378.0" stroke="#4a4a4a" stroke-width="1.05"/><line x1="292.2" y1="389.5" x2="412.2" y2="509.5" stroke="#4a4a4a" stroke-width="1.05"/><line x1="292.2" y1="509.5" x2="412.2" y2="389.5" stroke="#4a4a4a" stroke-width="1.05"/><line x1="292.2" y1="401.0" x2="412.2" y2="521.0" stroke="#4a4a4a" stroke-width="1.05"/><line x1="292.2" y1="521.0" x2="412.2" y2="401.0" stroke="#4a4a4a" stroke-width="1.05"/><line x1="292.2" y1="412.5" x2="412.2" y2="532.5" stroke="#4a4a4a" stroke-width="1.05"/><line x1="292.2" y1="532.5" x2="412.2" y2="412.5" stroke="#4a4a4a" stroke-width="1.05"/><line x1="292.2" y1="424.0" x2="412.2" y2="544.0" stroke="#4a4a4a" stroke-width="1.05"/><line x1="292.2" y1="544.0" x2="412.2" y2="424.0" stroke="#4a4a4a" stroke-width="1.05"/><line x1="292.2" y1="435.5" x2="412.2" y2="555.5" stroke="#4a4a4a" stroke-width="1.05"/><line x1="292.2" y1="555.5" x2="412.2" y2="435.5" stroke="#4a4a4a" stroke-width="1.05"/><line x1="292.2" y1="447.0" x2="412.2" y2="567.0" stroke="#4a4a4a" stroke-width="1.05"/><line x1="292.2" y1="567.0" x2="412.2" y2="447.0" stroke="#4a4a4a" stroke-width="1.05"/><line x1="292.2" y1="458.5" x2="412.2" y2="578.5" stroke="#4a4a4a" stroke-width="1.05"/><line x1="292.2" y1="578.5" x2="412.2" y2="458.5" stroke="#4a4a4a" stroke-width="1.05"/><line x1="292.2" y1="470.0" x2="412.2" y2="590.0" stroke="#4a4a4a" stroke-width="1.05"/><line x1="292.2" y1="590.0" x2="412.2" y2="470.0" stroke="#4a4a4a" stroke-width="1.05"/><line x1="292.2" y1="481.5" x2="412.2" y2="601.5" stroke="#4a4a4a" stroke-width="1.05"/><line x1="292.2" y1="601.5" x2="412.2" y2="481.5" stroke="#4a4a4a" stroke-width="1.05"/><line x1="292.2" y1="493.0" x2="412.2" y2="613.0" stroke="#4a4a4a" stroke-width="1.05"/><line x1="292.2" y1="613.0" x2="412.2" y2="493.0" stroke="#4a4a4a" stroke-width="1.05"/><line x1="292.2" y1="504.5" x2="412.2" y2="624.5" stroke="#4a4a4a" stroke-width="1.05"/><line x1="292.2" y1="624.5" x2="412.2" y2="504.5" stroke="#4a4a4a" stroke-width="1.05"/><line x1="292.2" y1="516.0" x2="412.2" y2="636.0" stroke="#4a4a4a" stroke-width="1.05"/><line x1="292.2" y1="636.0" x2="412.2" y2="516.0" stroke="#4a4a4a" stroke-width="1.05"/><line x1="292.2" y1="527.5" x2="412.2" y2="647.5" stroke="#4a4a4a" stroke-width="1.05"/><line x1="292.2" y1="647.5" x2="412.2" y2="527.5" stroke="#4a4a4a" stroke-width="1.05"/><line x1="292.2" y1="539.0" x2="412.2" y2="659.0" stroke="#4a4a4a" stroke-width="1.05"/><line x1="292.2" y1="659.0" x2="412.2" y2="539.0" stroke="#4a4a4a" stroke-width="1.05"/><line x1="292.2" y1="550.5" x2="412.2" y2="670.5" stroke="#4a4a4a" stroke-width="1.05"/><line x1="292.2" y1="670.5" x2="412.2" y2="550.5" stroke="#4a4a4a" stroke-width="1.05"/><line x1="292.2" y1="562.0" x2="412.2" y2="682.0" stroke="#4a4a4a" stroke-width="1.05"/><line x1="292.2" y1="682.0" x2="412.2" y2="562.0" stroke="#4a4a4a" stroke-width="1.05"/><line x1="292.2" y1="573.5" x2="412.2" y2="693.5" stroke="#4a4a4a" stroke-width="1.05"/><line x1="292.2" y1="693.5" x2="412.2" y2="573.5" stroke="#4a4a4a" stroke-width="1.05"/><line x1="292.2" y1="585.0" x2="412.2" y2="705.0" stroke="#4a4a4a" stroke-width="1.05"/><line x1="292.2" y1="705.0" x2="412.2" y2="585.0" stroke="#4a4a4a" stroke-width="1.05"/><line x1="292.2" y1="596.5" x2="412.2" y2="716.5" stroke="#4a4a4a" stroke-width="1.05"/><line x1="292.2" y1="716.5" x2="412.2" y2="596.5" stroke="#4a4a4a" stroke-width="1.05"/><line x1="292.2" y1="608.0" x2="412.2" y2="728.0" stroke="#4a4a4a" stroke-width="1.05"/><line x1="292.2" y1="728.0" x2="412.2" y2="608.0" stroke="#4a4a4a" stroke-width="1.05"/><line x1="292.2" y1="619.5" x2="412.2" y2="739.5" stroke="#4a4a4a" stroke-width="1.05"/><line x1="292.2" y1="739.5" x2="412.2" y2="619.5" stroke="#4a4a4a" stroke-width="1.05"/><line x1="292.2" y1="631.0" x2="412.2" y2="751.0" stroke="#4a4a4a" stroke-width="1.05"/><line x1="292.2" y1="751.0" x2="412.2" y2="631.0" stroke="#4a4a4a" stroke-width="1.05"/><line x1="292.2" y1="642.5" x2="412.2" y2="762.5" stroke="#4a4a4a" stroke-width="1.05"/><line x1="292.2" y1="762.5" x2="412.2" y2="642.5" stroke="#4a4a4a" stroke-width="1.05"/><line x1="292.2" y1="654.0" x2="412.2" y2="774.0" stroke="#4a4a4a" stroke-width="1.05"/><line x1="292.2" y1="774.0" x2="412.2" y2="654.0" stroke="#4a4a4a" stroke-width="1.05"/><line x1="292.2" y1="665.5" x2="412.2" y2="785.5" stroke="#4a4a4a" stroke-width="1.05"/><line x1="292.2" y1="785.5" x2="412.2" y2="665.5" stroke="#4a4a4a" stroke-width="1.05"/><line x1="292.2" y1="677.0" x2="412.2" y2="797.0" stroke="#4a4a4a" stroke-width="1.05"/><line x1="292.2" y1="797.0" x2="412.2" y2="677.0" stroke="#4a4a4a" stroke-width="1.05"/><line x1="292.2" y1="688.5" x2="412.2" y2="808.5" stroke="#4a4a4a" stroke-width="1.05"/><line x1="292.2" y1="808.5" x2="412.2" y2="688.5" stroke="#4a4a4a" stroke-width="1.05"/><line x1="292.2" y1="700.0" x2="412.2" y2="820.0" stroke="#4a4a4a" stroke-width="1.05"/><line x1="292.2" y1="820.0" x2="412.2" y2="700.0" stroke="#4a4a4a" stroke-width="1.05"/><line x1="292.2" y1="711.5" x2="412.2" y2="831.5" stroke="#4a4a4a" stroke-width="1.05"/><line x1="292.2" y1="831.5" x2="412.2" y2="711.5" stroke="#4a4a4a" stroke-width="1.05"/><line x1="292.2" y1="723.0" x2="412.2" y2="843.0" stroke="#4a4a4a" stroke-width="1.05"/><line x1="292.2" y1="843.0" x2="412.2" y2="723.0" stroke="#4a4a4a" stroke-width="1.05"/><line x1="292.2" y1="734.5" x2="412.2" y2="854.5" stroke="#4a4a4a" stroke-width="1.05"/><line x1="292.2" y1="854.5" x2="412.2" y2="734.5" stroke="#4a4a4a" stroke-width="1.05"/><line x1="292.2" y1="746.0" x2="412.2" y2="866.0" stroke="#4a4a4a" stroke-width="1.05"/><line x1="292.2" y1="866.0" x2="412.2" y2="746.0" stroke="#4a4a4a" stroke-width="1.05"/><line x1="292.2" y1="757.5" x2="412.2" y2="877.5" stroke="#4a4a4a" stroke-width="1.05"/><line x1="292.2" y1="877.5" x2="412.2" y2="757.5" stroke="#4a4a4a" stroke-width="1.05"/><line x1="292.2" y1="769.0" x2="412.2" y2="889.0" stroke="#4a4a4a" stroke-width="1.05"/><line x1="292.2" y1="889.0" x2="412.2" y2="769.0" stroke="#4a4a4a" stroke-width="1.05"/><line x1="292.2" y1="780.5" x2="412.2" y2="900.5" stroke="#4a4a4a" stroke-width="1.05"/><line x1="292.2" y1="900.5" x2="412.2" y2="780.5" stroke="#4a4a4a" stroke-width="1.05"/><line x1="292.2" y1="792.0" x2="412.2" y2="912.0" stroke="#4a4a4a" stroke-width="1.05"/><line x1="292.2" y1="912.0" x2="412.2" y2="792.0" stroke="#4a4a4a" stroke-width="1.05"/><line x1="292.2" y1="803.5" x2="412.2" y2="923.5" stroke="#4a4a4a" stroke-width="1.05"/><line x1="292.2" y1="923.5" x2="412.2" y2="803.5" stroke="#4a4a4a" stroke-width="1.05"/></g>
<clipPath id="c3"><rect x="351.4" y="524.3" width="18.200000000000045" height="34.30000000000007"/></clipPath>
<g clip-path="url(#c3)"><line x1="291.4" y1="234.3" x2="411.4" y2="354.3" stroke="#4a4a4a" stroke-width="1.05"/><line x1="291.4" y1="354.3" x2="411.4" y2="234.3" stroke="#4a4a4a" stroke-width="1.05"/><line x1="291.4" y1="245.8" x2="411.4" y2="365.8" stroke="#4a4a4a" stroke-width="1.05"/><line x1="291.4" y1="365.8" x2="411.4" y2="245.8" stroke="#4a4a4a" stroke-width="1.05"/><line x1="291.4" y1="257.3" x2="411.4" y2="377.3" stroke="#4a4a4a" stroke-width="1.05"/><line x1="291.4" y1="377.3" x2="411.4" y2="257.3" stroke="#4a4a4a" stroke-width="1.05"/><line x1="291.4" y1="268.8" x2="411.4" y2="388.8" stroke="#4a4a4a" stroke-width="1.05"/><line x1="291.4" y1="388.8" x2="411.4" y2="268.8" stroke="#4a4a4a" stroke-width="1.05"/><line x1="291.4" y1="280.3" x2="411.4" y2="400.3" stroke="#4a4a4a" stroke-width="1.05"/><line x1="291.4" y1="400.3" x2="411.4" y2="280.3" stroke="#4a4a4a" stroke-width="1.05"/><line x1="291.4" y1="291.8" x2="411.4" y2="411.8" stroke="#4a4a4a" stroke-width="1.05"/><line x1="291.4" y1="411.8" x2="411.4" y2="291.8" stroke="#4a4a4a" stroke-width="1.05"/><line x1="291.4" y1="303.3" x2="411.4" y2="423.3" stroke="#4a4a4a" stroke-width="1.05"/><line x1="291.4" y1="423.3" x2="411.4" y2="303.3" stroke="#4a4a4a" stroke-width="1.05"/><line x1="291.4" y1="314.8" x2="411.4" y2="434.8" stroke="#4a4a4a" stroke-width="1.05"/><line x1="291.4" y1="434.8" x2="411.4" y2="314.8" stroke="#4a4a4a" stroke-width="1.05"/><line x1="291.4" y1="326.3" x2="411.4" y2="446.3" stroke="#4a4a4a" stroke-width="1.05"/><line x1="291.4" y1="446.3" x2="411.4" y2="326.3" stroke="#4a4a4a" stroke-width="1.05"/><line x1="291.4" y1="337.8" x2="411.4" y2="457.8" stroke="#4a4a4a" stroke-width="1.05"/><line x1="291.4" y1="457.8" x2="411.4" y2="337.8" stroke="#4a4a4a" stroke-width="1.05"/><line x1="291.4" y1="349.3" x2="411.4" y2="469.3" stroke="#4a4a4a" stroke-width="1.05"/><line x1="291.4" y1="469.3" x2="411.4" y2="349.3" stroke="#4a4a4a" stroke-width="1.05"/><line x1="291.4" y1="360.8" x2="411.4" y2="480.8" stroke="#4a4a4a" stroke-width="1.05"/><line x1="291.4" y1="480.8" x2="411.4" y2="360.8" stroke="#4a4a4a" stroke-width="1.05"/><line x1="291.4" y1="372.3" x2="411.4" y2="492.3" stroke="#4a4a4a" stroke-width="1.05"/><line x1="291.4" y1="492.3" x2="411.4" y2="372.3" stroke="#4a4a4a" stroke-width="1.05"/><line x1="291.4" y1="383.8" x2="411.4" y2="503.8" stroke="#4a4a4a" stroke-width="1.05"/><line x1="291.4" y1="503.8" x2="411.4" y2="383.8" stroke="#4a4a4a" stroke-width="1.05"/><line x1="291.4" y1="395.3" x2="411.4" y2="515.3" stroke="#4a4a4a" stroke-width="1.05"/><line x1="291.4" y1="515.3" x2="411.4" y2="395.3" stroke="#4a4a4a" stroke-width="1.05"/><line x1="291.4" y1="406.8" x2="411.4" y2="526.8" stroke="#4a4a4a" stroke-width="1.05"/><line x1="291.4" y1="526.8" x2="411.4" y2="406.8" stroke="#4a4a4a" stroke-width="1.05"/><line x1="291.4" y1="418.3" x2="411.4" y2="538.3" stroke="#4a4a4a" stroke-width="1.05"/><line x1="291.4" y1="538.3" x2="411.4" y2="418.3" stroke="#4a4a4a" stroke-width="1.05"/><line x1="291.4" y1="429.8" x2="411.4" y2="549.8" stroke="#4a4a4a" stroke-width="1.05"/><line x1="291.4" y1="549.8" x2="411.4" y2="429.8" stroke="#4a4a4a" stroke-width="1.05"/><line x1="291.4" y1="441.3" x2="411.4" y2="561.3" stroke="#4a4a4a" stroke-width="1.05"/><line x1="291.4" y1="561.3" x2="411.4" y2="441.3" stroke="#4a4a4a" stroke-width="1.05"/><line x1="291.4" y1="452.8" x2="411.4" y2="572.8" stroke="#4a4a4a" stroke-width="1.05"/><line x1="291.4" y1="572.8" x2="411.4" y2="452.8" stroke="#4a4a4a" stroke-width="1.05"/><line x1="291.4" y1="464.3" x2="411.4" y2="584.3" stroke="#4a4a4a" stroke-width="1.05"/><line x1="291.4" y1="584.3" x2="411.4" y2="464.3" stroke="#4a4a4a" stroke-width="1.05"/><line x1="291.4" y1="475.8" x2="411.4" y2="595.8" stroke="#4a4a4a" stroke-width="1.05"/><line x1="291.4" y1="595.8" x2="411.4" y2="475.8" stroke="#4a4a4a" stroke-width="1.05"/><line x1="291.4" y1="487.3" x2="411.4" y2="607.3" stroke="#4a4a4a" stroke-width="1.05"/><line x1="291.4" y1="607.3" x2="411.4" y2="487.3" stroke="#4a4a4a" stroke-width="1.05"/><line x1="291.4" y1="498.8" x2="411.4" y2="618.8" stroke="#4a4a4a" stroke-width="1.05"/><line x1="291.4" y1="618.8" x2="411.4" y2="498.8" stroke="#4a4a4a" stroke-width="1.05"/><line x1="291.4" y1="510.3" x2="411.4" y2="630.3" stroke="#4a4a4a" stroke-width="1.05"/><line x1="291.4" y1="630.3" x2="411.4" y2="510.3" stroke="#4a4a4a" stroke-width="1.05"/><line x1="291.4" y1="521.8" x2="411.4" y2="641.8" stroke="#4a4a4a" stroke-width="1.05"/><line x1="291.4" y1="641.8" x2="411.4" y2="521.8" stroke="#4a4a4a" stroke-width="1.05"/><line x1="291.4" y1="533.3" x2="411.4" y2="653.3" stroke="#4a4a4a" stroke-width="1.05"/><line x1="291.4" y1="653.3" x2="411.4" y2="533.3" stroke="#4a4a4a" stroke-width="1.05"/><line x1="291.4" y1="544.8" x2="411.4" y2="664.8" stroke="#4a4a4a" stroke-width="1.05"/><line x1="291.4" y1="664.8" x2="411.4" y2="544.8" stroke="#4a4a4a" stroke-width="1.05"/><line x1="291.4" y1="556.3" x2="411.4" y2="676.3" stroke="#4a4a4a" stroke-width="1.05"/><line x1="291.4" y1="676.3" x2="411.4" y2="556.3" stroke="#4a4a4a" stroke-width="1.05"/><line x1="291.4" y1="567.8" x2="411.4" y2="687.8" stroke="#4a4a4a" stroke-width="1.05"/><line x1="291.4" y1="687.8" x2="411.4" y2="567.8" stroke="#4a4a4a" stroke-width="1.05"/><line x1="291.4" y1="579.3" x2="411.4" y2="699.3" stroke="#4a4a4a" stroke-width="1.05"/><line x1="291.4" y1="699.3" x2="411.4" y2="579.3" stroke="#4a4a4a" stroke-width="1.05"/><line x1="291.4" y1="590.8" x2="411.4" y2="710.8" stroke="#4a4a4a" stroke-width="1.05"/><line x1="291.4" y1="710.8" x2="411.4" y2="590.8" stroke="#4a4a4a" stroke-width="1.05"/><line x1="291.4" y1="602.3" x2="411.4" y2="722.3" stroke="#4a4a4a" stroke-width="1.05"/><line x1="291.4" y1="722.3" x2="411.4" y2="602.3" stroke="#4a4a4a" stroke-width="1.05"/><line x1="291.4" y1="613.8" x2="411.4" y2="733.8" stroke="#4a4a4a" stroke-width="1.05"/><line x1="291.4" y1="733.8" x2="411.4" y2="613.8" stroke="#4a4a4a" stroke-width="1.05"/><line x1="291.4" y1="625.3" x2="411.4" y2="745.3" stroke="#4a4a4a" stroke-width="1.05"/><line x1="291.4" y1="745.3" x2="411.4" y2="625.3" stroke="#4a4a4a" stroke-width="1.05"/><line x1="291.4" y1="636.8" x2="411.4" y2="756.8" stroke="#4a4a4a" stroke-width="1.05"/><line x1="291.4" y1="756.8" x2="411.4" y2="636.8" stroke="#4a4a4a" stroke-width="1.05"/><line x1="291.4" y1="648.3" x2="411.4" y2="768.3" stroke="#4a4a4a" stroke-width="1.05"/><line x1="291.4" y1="768.3" x2="411.4" y2="648.3" stroke="#4a4a4a" stroke-width="1.05"/><line x1="291.4" y1="659.8" x2="411.4" y2="779.8" stroke="#4a4a4a" stroke-width="1.05"/><line x1="291.4" y1="779.8" x2="411.4" y2="659.8" stroke="#4a4a4a" stroke-width="1.05"/><line x1="291.4" y1="671.3" x2="411.4" y2="791.3" stroke="#4a4a4a" stroke-width="1.05"/><line x1="291.4" y1="791.3" x2="411.4" y2="671.3" stroke="#4a4a4a" stroke-width="1.05"/><line x1="291.4" y1="682.8" x2="411.4" y2="802.8" stroke="#4a4a4a" stroke-width="1.05"/><line x1="291.4" y1="802.8" x2="411.4" y2="682.8" stroke="#4a4a4a" stroke-width="1.05"/><line x1="291.4" y1="694.3" x2="411.4" y2="814.3" stroke="#4a4a4a" stroke-width="1.05"/><line x1="291.4" y1="814.3" x2="411.4" y2="694.3" stroke="#4a4a4a" stroke-width="1.05"/><line x1="291.4" y1="705.8" x2="411.4" y2="825.8" stroke="#4a4a4a" stroke-width="1.05"/><line x1="291.4" y1="825.8" x2="411.4" y2="705.8" stroke="#4a4a4a" stroke-width="1.05"/><line x1="291.4" y1="717.3" x2="411.4" y2="837.3" stroke="#4a4a4a" stroke-width="1.05"/><line x1="291.4" y1="837.3" x2="411.4" y2="717.3" stroke="#4a4a4a" stroke-width="1.05"/><line x1="291.4" y1="728.8" x2="411.4" y2="848.8" stroke="#4a4a4a" stroke-width="1.05"/><line x1="291.4" y1="848.8" x2="411.4" y2="728.8" stroke="#4a4a4a" stroke-width="1.05"/><line x1="291.4" y1="740.3" x2="411.4" y2="860.3" stroke="#4a4a4a" stroke-width="1.05"/><line x1="291.4" y1="860.3" x2="411.4" y2="740.3" stroke="#4a4a4a" stroke-width="1.05"/><line x1="291.4" y1="751.8" x2="411.4" y2="871.8" stroke="#4a4a4a" stroke-width="1.05"/><line x1="291.4" y1="871.8" x2="411.4" y2="751.8" stroke="#4a4a4a" stroke-width="1.05"/><line x1="291.4" y1="763.3" x2="411.4" y2="883.3" stroke="#4a4a4a" stroke-width="1.05"/><line x1="291.4" y1="883.3" x2="411.4" y2="763.3" stroke="#4a4a4a" stroke-width="1.05"/><line x1="291.4" y1="774.8" x2="411.4" y2="894.8" stroke="#4a4a4a" stroke-width="1.05"/><line x1="291.4" y1="894.8" x2="411.4" y2="774.8" stroke="#4a4a4a" stroke-width="1.05"/><line x1="291.4" y1="786.3" x2="411.4" y2="906.3" stroke="#4a4a4a" stroke-width="1.05"/><line x1="291.4" y1="906.3" x2="411.4" y2="786.3" stroke="#4a4a4a" stroke-width="1.05"/><line x1="291.4" y1="797.8" x2="411.4" y2="917.8" stroke="#4a4a4a" stroke-width="1.05"/><line x1="291.4" y1="917.8" x2="411.4" y2="797.8" stroke="#4a4a4a" stroke-width="1.05"/><line x1="291.4" y1="809.3" x2="411.4" y2="929.3" stroke="#4a4a4a" stroke-width="1.05"/><line x1="291.4" y1="929.3" x2="411.4" y2="809.3" stroke="#4a4a4a" stroke-width="1.05"/><line x1="291.4" y1="820.8" x2="411.4" y2="940.8" stroke="#4a4a4a" stroke-width="1.05"/><line x1="291.4" y1="940.8" x2="411.4" y2="820.8" stroke="#4a4a4a" stroke-width="1.05"/><line x1="291.4" y1="832.3" x2="411.4" y2="952.3" stroke="#4a4a4a" stroke-width="1.05"/><line x1="291.4" y1="952.3" x2="411.4" y2="832.3" stroke="#4a4a4a" stroke-width="1.05"/><line x1="291.4" y1="843.8" x2="411.4" y2="963.8" stroke="#4a4a4a" stroke-width="1.05"/><line x1="291.4" y1="963.8" x2="411.4" y2="843.8" stroke="#4a4a4a" stroke-width="1.05"/><line x1="291.4" y1="855.3" x2="411.4" y2="975.3" stroke="#4a4a4a" stroke-width="1.05"/><line x1="291.4" y1="975.3" x2="411.4" y2="855.3" stroke="#4a4a4a" stroke-width="1.05"/><line x1="291.4" y1="866.8" x2="411.4" y2="986.8" stroke="#4a4a4a" stroke-width="1.05"/><line x1="291.4" y1="986.8" x2="411.4" y2="866.8" stroke="#4a4a4a" stroke-width="1.05"/><line x1="291.4" y1="878.3" x2="411.4" y2="998.3" stroke="#4a4a4a" stroke-width="1.05"/><line x1="291.4" y1="998.3" x2="411.4" y2="878.3" stroke="#4a4a4a" stroke-width="1.05"/><line x1="291.4" y1="889.8" x2="411.4" y2="1009.8" stroke="#4a4a4a" stroke-width="1.05"/><line x1="291.4" y1="1009.8" x2="411.4" y2="889.8" stroke="#4a4a4a" stroke-width="1.05"/><line x1="291.4" y1="901.3" x2="411.4" y2="1021.3" stroke="#4a4a4a" stroke-width="1.05"/><line x1="291.4" y1="1021.3" x2="411.4" y2="901.3" stroke="#4a4a4a" stroke-width="1.05"/><line x1="291.4" y1="912.8" x2="411.4" y2="1032.8" stroke="#4a4a4a" stroke-width="1.05"/><line x1="291.4" y1="1032.8" x2="411.4" y2="912.8" stroke="#4a4a4a" stroke-width="1.05"/></g>
<line x1="351.40" y1="524.30" x2="351.40" y2="558.60" stroke="#333333" stroke-width="1.8" />
<line x1="369.60" y1="524.30" x2="369.60" y2="558.60" stroke="#333333" stroke-width="1.8" />
<line x1="331.90" y1="369.50" x2="331.90" y2="409.60" stroke="#333333" stroke-width="2" />
<line x1="346.00" y1="369.50" x2="346.00" y2="409.60" stroke="#333333" stroke-width="2" />
<line x1="368.90" y1="369.50" x2="368.90" y2="409.60" stroke="#333333" stroke-width="2" />
<line x1="352.20" y1="369.50" x2="352.20" y2="409.60" stroke="#333333" stroke-width="1.6" />
<line x1="331.90" y1="424.40" x2="331.90" y2="446.50" stroke="#333333" stroke-width="2" />
<line x1="346.00" y1="424.40" x2="346.00" y2="446.50" stroke="#333333" stroke-width="2" />
<line x1="352.20" y1="423.00" x2="352.20" y2="507.80" stroke="#333333" stroke-width="1.8" />
<line x1="369.10" y1="417.50" x2="369.10" y2="507.80" stroke="#333333" stroke-width="1.8" />
<rect x="328" y="446.5" width="21" height="53.5" rx="2" fill="#fff" stroke="#333333" stroke-width="1.9"/>
<line x1="337.40" y1="446.50" x2="337.40" y2="500.00" stroke="#333333" stroke-width="1.5" />
<path d="M321.6,409.7 H385 Q389.3,409.7 389.3,413.5 V415 Q389.3,418.3 386.5,418.4 L352.7,422.3 Q349.5,424 346,424.2 L322,424.6 Q319.6,424.6 319.6,422.2 V412 Q319.6,409.7 321.6,409.7 Z" stroke="#333333" stroke-width="1.8" fill="#fff" stroke-linejoin="round" stroke-linecap="round" />
<path d="M319.6,413.1 H389" stroke="#333333" stroke-width="1.4" fill="none" stroke-linejoin="round" stroke-linecap="round" />
<path d="M320,415.8 H388" stroke="#555" stroke-width="1.0" fill="none" stroke-linejoin="round" stroke-linecap="round" />
<path d="M326.4,415.8 Q328.8,420 327.4,424.4" stroke="#333333" stroke-width="1.3" fill="none" stroke-linejoin="round" stroke-linecap="round" />
<path d="M335,416.9 H349.3 M354.4,416.9 H378.4" stroke="#333333" stroke-width="1.4" fill="none" stroke-linejoin="round" stroke-linecap="round" />
<rect x="349.9" y="558.6" width="21.5" height="11.1" rx="1.8" fill="#fff" stroke="#333333" stroke-width="1.8"/>
<path d="M351.2,569.7 V589 M370.2,569.7 V589" stroke="#333333" stroke-width="1.8" fill="none" stroke-linejoin="round" stroke-linecap="round" />
<path d="M350.8,589 H370.6 M350.8,591 H370.6" stroke="#333333" stroke-width="1.5" fill="none" stroke-linejoin="round" stroke-linecap="round" />
<path d="M352,591 V606.8 M368.6,591 V606.8" stroke="#333333" stroke-width="1.8" fill="none" stroke-linejoin="round" stroke-linecap="round" />
<path d="M357.4,593 V605 M362.6,593 V605" stroke="#333333" stroke-width="1.5" fill="none" stroke-linejoin="round" stroke-linecap="round" />
<path d="M341.8,627.1 V609 Q341.8,606.8 344,606.8 H376.7 Q378.9,606.8 378.9,609 V627.1 Z" stroke="#333333" stroke-width="1.9" fill="#fff" stroke-linejoin="round" stroke-linecap="round" />
<path d="M350.4,606.8 V627.1 M369.6,606.8 V627.1" stroke="#333333" stroke-width="1.5" fill="none" stroke-linejoin="round" stroke-linecap="round" />
</svg></body></html>
